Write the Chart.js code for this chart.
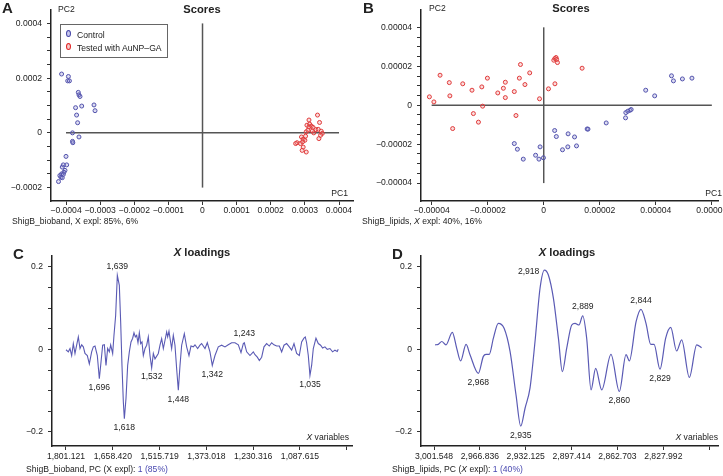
<!DOCTYPE html>
<html>
<head>
<meta charset="utf-8">
<script src="https://cdn.jsdelivr.net/npm/chart.js@4.4.1/dist/chart.umd.min.js"></script>
<style>
  html, body { margin: 0; padding: 0; background: #fff; }
  #page { position: relative; width: 723px; height: 476px; overflow: hidden; color: #222; font-family: var(--f); }
  canvas { position: absolute; }
  .tx { position: absolute; white-space: nowrap; font-size: calc(10px * var(--k)); line-height: 10px; }
  .ttl { position: absolute; white-space: nowrap; font-weight: bold; font-size: calc(13px * var(--k)); line-height: 13px; transform: translateX(-50%); }
  .let { position: absolute; font-family: "Liberation Sans", Arial, sans-serif; font-weight: bold; font-size: 15px; line-height: 15px; }
  .blue { color: #4848b0; }
  #legend { position: absolute; left: 60px; top: 24px; width: 106px; height: 32px; border: 1px solid #666; background: #fff; }
  .mk { position: absolute; width: 3px; height: 5px; border-radius: 50%; border: 1.5px solid; }
</style>
</head>
<body>
<div id="page">
  <canvas id="chartA" width="360" height="230" style="left:0;top:0"></canvas>
  <canvas id="chartB" width="363" height="230" style="left:360px;top:0"></canvas>
  <canvas id="chartC" width="360" height="246" style="left:0;top:230px"></canvas>
  <canvas id="chartD" width="363" height="246" style="left:360px;top:230px"></canvas>

  <div class="let" style="left:2px;top:0px">A</div>
  <div class="tx" style="left:58px;top:4px">PC2</div>
  <div class="ttl" style="left:202px;top:3px">Scores</div>
  <div id="legend">
    <div class="mk" style="left:5px;top:5px;border-color:#4848a8;background:#c8c8ee"></div>
    <div class="tx" style="left:16px;top:5px">Control</div>
    <div class="mk" style="left:5px;top:18px;border-color:#e02828;background:#f6c8c8"></div>
    <div class="tx" style="left:16px;top:18px">Tested with AuNP–GA</div>
  </div>
  <div class="tx" style="right:375px;top:188px">PC1</div>
  <div class="tx" style="left:12px;top:216px">ShigB_bioband, X expl: 85%, 6%</div>

  <div class="let" style="left:363px;top:0px">B</div>
  <div class="tx" style="left:429px;top:3px">PC2</div>
  <div class="ttl" style="left:571px;top:2px">Scores</div>
  <div class="tx" style="right:1px;top:188px">PC1</div>
  <div class="tx" style="left:362px;top:216px">ShigB_lipids, <i>X</i> expl: 40%, 16%</div>

  <div class="let" style="left:13px;top:246px">C</div>
  <div class="ttl" style="left:202px;top:246px"><i>X</i> loadings</div>
  <div class="tx" style="right:374px;top:432px"><i>X</i> variables</div>
  <div class="tx" style="left:26px;top:464px">ShigB_bioband, PC (X expl): <span class="blue">1 (85%)</span></div>

  <div class="let" style="left:392px;top:246px">D</div>
  <div class="ttl" style="left:567px;top:246px"><i>X</i> loadings</div>
  <div class="tx" style="right:5px;top:432px"><i>X</i> variables</div>
  <div class="tx" style="left:392px;top:464px">ShigB_lipids, PC (<i>X</i> expl): <span class="blue">1 (40%)</span></div>
</div>

<script>
// A: scores, bioband
const aControlX = [-0.000413,-0.000393,-0.000395,-0.000390,-0.000364,-0.000362,-0.000359,-0.000354,-0.000372,-0.000369,-0.000366,-0.000318,-0.000315,-0.000381,-0.000362,-0.000381,-0.000380,-0.000400,-0.000398,-0.000408,-0.000411,-0.000403,-0.000406,-0.000413,-0.000408,-0.000418,-0.000415,-0.000411,-0.000422]
const aControlY = [0.000215,0.000206,0.000190,0.000190,0.000148,0.000139,0.000133,0.000098,0.000092,0.000065,0.000037,0.000102,0.000081,0.000000,-0.000015,-0.000031,-0.000036,-0.000086,-0.000117,-0.000117,-0.000125,-0.000137,-0.000144,-0.000150,-0.000152,-0.000156,-0.000162,-0.000164,-0.000178]
const aTestedX = [0.000337,0.000312,0.000343,0.000306,0.000314,0.000319,0.000312,0.000324,0.000332,0.000304,0.000339,0.000348,0.000351,0.000326,0.000346,0.000290,0.000302,0.000295,0.000300,0.000293,0.000287,0.000341,0.000277,0.000273,0.000292,0.000304,0.000295,0.000309,0.000322]
const aTestedY = [0.000065,0.000047,0.000038,0.000028,0.000032,0.000025,0.000022,0.000020,0.000012,0.000004,0.000013,0.000006,-0.000002,0.000000,-0.000009,-0.000015,-0.000012,-0.000023,-0.000027,-0.000033,-0.000039,-0.000021,-0.000036,-0.000039,-0.000064,-0.000070,-0.000052,0.000010,0.000007]
const aZeroH = [-0.0004, 0.0004]
const aZeroV = [-0.0002, 0.0004]
const aXTicks = [-0.0004,-0.0003,-0.0002,-0.0001,0,0.0001,0.0002,0.0003,0.0004]
const aXLabels = ['−0.0004','−0.0003','−0.0002','−0.0001','0','0.0001','0.0002','0.0003','0.0004']
const aYTicks = [-0.0002,-0.00015,-0.0001,-0.00005,0,0.00005,0.0001,0.00015,0.0002,0.00025,0.0003,0.00035,0.0004]
const aYMajor = [-0.0002,0,0.0002,0.0004]
const aYLabels = ['−0.0002','0','0.0002','0.0004']

// B: scores, lipids
const bControlX = [-1.05e-5,-0.94e-5,-0.73e-5,-0.29e-5,-0.17e-5,-0.13e-5,-0.01e-5,0.39e-5,0.45e-5,0.67e-5,0.87e-5,0.86e-5,1.10e-5,1.17e-5,1.55e-5,1.58e-5,2.23e-5,2.92e-5,2.93e-5,3.00e-5,3.08e-5,3.12e-5,3.64e-5,3.96e-5,4.56e-5,4.63e-5,4.95e-5,5.29e-5]
const bControlY = [-1.97e-5,-2.26e-5,-2.77e-5,-2.57e-5,-2.77e-5,-2.14e-5,-2.70e-5,-1.30e-5,-1.61e-5,-2.29e-5,-1.47e-5,-2.14e-5,-1.63e-5,-2.09e-5,-1.22e-5,-1.23e-5,-0.91e-5,-0.65e-5,-0.38e-5,-0.31e-5,-0.26e-5,-0.22e-5,0.77e-5,0.48e-5,1.51e-5,1.25e-5,1.35e-5,1.39e-5]
const bTestedX = [-4.08e-5,-3.92e-5,-3.70e-5,-3.37e-5,-3.35e-5,-3.25e-5,-2.89e-5,-2.56e-5,-2.51e-5,-2.33e-5,-2.21e-5,-2.18e-5,-2.01e-5,-1.64e-5,-1.44e-5,-1.37e-5,-1.37e-5,-1.05e-5,-0.99e-5,-0.87e-5,-0.83e-5,-0.67e-5,-0.50e-5,-0.15e-5,0.17e-5,0.36e-5,0.40e-5,0.44e-5,0.46e-5,0.49e-5,0.40e-5,1.37e-5]
const bTestedY = [0.43e-5,0.17e-5,1.54e-5,1.16e-5,0.48e-5,-1.20e-5,1.10e-5,0.77e-5,-0.43e-5,-0.87e-5,0.94e-5,-0.05e-5,1.39e-5,0.63e-5,0.87e-5,1.18e-5,0.39e-5,0.70e-5,-0.53e-5,1.39e-5,2.09e-5,1.06e-5,1.66e-5,0.33e-5,0.84e-5,2.31e-5,2.40e-5,2.45e-5,2.35e-5,2.19e-5,1.10e-5,1.90e-5]
const bZeroH = [-0.00004, 0.00006]
const bZeroV = [-0.00004, 0.00004]
const bXTicks = [-0.00004,-0.00002,0,0.00002,0.00004,0.00006]
const bXLabels = ['−0.00004','−0.00002','0','0.00002','0.00004','0.00006']
const bYTicks = [-0.00004,-0.000035,-0.00003,-0.000025,-0.00002,-0.000015,-0.00001,-0.000005,0,0.000005,0.00001,0.000015,0.00002,0.000025,0.00003,0.000035,0.00004]
const bYMajor = [-0.00004,-0.00002,0,0.00002,0.00004]
const bYLabels = ['−0.00004','−0.00002','0','0.00002','0.00004']

// C: X loadings, bioband
const cWavenumber = [1801.1,1794.0,1788.9,1783.8,1778.8,1773.7,1768.6,1763.5,1758.4,1753.3,1748.3,1743.2,1736.1,1730.0,1722.9,1717.8,1712.7,1705.6,1699.5,1695.4,1689.3,1684.2,1679.2,1674.1,1669.0,1664.9,1658.8,1654.8,1649.7,1644.6,1638.5,1634.4,1630.4,1626.3,1623.2,1618.2,1613.1,1608.0,1602.9,1597.8,1593.8,1589.7,1585.6,1581.6,1577.5,1573.4,1569.4,1565.3,1560.2,1555.1,1550.1,1545.0,1539.9,1534.8,1529.7,1519.6,1514.5,1509.4,1504.3,1499.2,1494.2,1491.1,1487.1,1483.0,1479.0,1473.9,1468.8,1463.7,1458.6,1453.5,1448.4,1440.3,1433.2,1426.1,1420.0,1412.9,1407.8,1399.7,1392.6,1387.5,1377.3,1370.2,1362.1,1355.0,1346.8,1336.7,1326.5,1316.3,1306.3,1296.0,1285.8,1275.6,1267.5,1260.4,1257.4,1250.2,1240.1,1229.9,1224.8,1217.7,1211.6,1204.5,1197.4,1189.3,1181.2,1174.0,1166.9,1158.8,1150.6,1143.5,1136.4,1128.3,1120.2,1113.0,1105.9,1097.8,1089.7,1082.6,1075.5,1071.4,1067.4,1062.3,1057.2,1052.1,1047.0,1038.9,1031.8,1024.7,1018.6,1011.5,1004.4,996.3,988.2,981.0,974.0,971.0]
const cLoading = [-0.001,-0.006,0.002,-0.015,0.014,-0.010,0.010,0.030,0.002,0.011,0.006,-0.010,-0.015,-0.035,-0.006,0.006,0.008,-0.015,-0.071,-0.039,0.010,0.011,-0.039,0.002,-0.006,0.011,-0.010,0.034,0.082,0.179,0.155,0.066,-0.039,-0.127,-0.168,-0.119,-0.039,-0.006,0.018,0.027,0.040,0.030,0.034,0.016,0.040,0.014,0.018,-0.015,0.002,0.010,0.030,-0.015,-0.045,-0.010,-0.023,-0.010,0.010,0.026,0.002,0.022,0.042,0.030,0.044,0.022,0.002,0.034,0.010,-0.047,-0.099,-0.039,0.010,0.038,0.006,-0.015,0.008,0.006,0.011,0.002,0.010,0.014,0.002,0.016,-0.006,-0.039,-0.015,0.006,0.010,0.006,0.011,0.016,0.016,0.011,-0.008,0.014,0.016,-0.006,-0.015,-0.006,-0.013,-0.019,-0.027,-0.019,0.006,0.014,0.008,0.016,0.011,0.008,0.008,-0.006,0.010,0.014,0.006,-0.002,0.014,-0.010,-0.015,0.018,0.027,0.030,0.016,-0.015,-0.063,-0.039,0.002,0.027,0.014,0.010,0.003,0.006,0.000,0.002,-0.006,-0.002,-0.005,0.000]
const cPeakText = ['1,639','1,696','1,618','1,532','1,448','1,342','1,243','1,035']
const cPeakAt = [1644.6,1699.5,1623.2,1539.9,1458.6,1355.0,1257.4,1057.2]
const cPeakSide = ['up','down','down','down','down','down','up','down']
const cXTicks = [1801.121,1658.420,1515.719,1373.018,1230.316,1087.615,944.914]
const cXLabels = ['1,801.121','1,658.420','1,515.719','1,373.018','1,230.316','1,087.615','']

// D: X loadings, lipids
const dWavenumber = [3000.8,2998.3,2995.7,2992.5,2987.7,2984.4,2981.4,2977.3,2974.3,2968.0,2964.2,2962.2,2959.7,2956.6,2952.9,2948.5,2944.0,2939.5,2935.9,2932.6,2928.9,2925.1,2921.3,2918.0,2915.0,2911.2,2907.4,2904.4,2901.1,2897.3,2894.8,2891.8,2889.0,2886.0,2882.7,2879.2,2874.6,2867.6,2861.3,2856.2,2853.7,2848.6,2844.9,2841.1,2837.5,2835.0,2830.5,2826.2,2822.4,2817.9,2814.1,2808.3,2802.7,2799.0]
const dLoading = [0.011,0.012,0.019,0.011,0.041,0.003,-0.028,0.012,-0.013,-0.058,-0.017,-0.012,-0.012,0.027,0.063,0.051,-0.005,-0.110,-0.186,-0.142,-0.094,0.019,0.148,0.192,0.180,0.124,0.027,-0.054,0.003,0.059,0.063,0.059,0.081,0.027,-0.098,-0.046,-0.098,-0.012,-0.102,-0.013,-0.028,0.067,0.097,0.063,0.012,0.012,-0.048,0.027,0.053,-0.004,0.023,-0.068,0.011,0.004]
const dPeakText = ['2,968','2,935','2,918','2,889','2,860','2,844','2,829']
const dPeakAt = [2968.0,2935.9,2918.0,2889.0,2861.3,2844.9,2830.5]
const dPeakSide = ['down','down','left','up','down','up','down']
const dXTicks = [3001.548,2966.836,2932.125,2897.414,2862.703,2827.992,2793.281]
const dXLabels = ['3,001.548','2,966.836','2,932.125','2,897.414','2,862.703','2,827.992','']

const loadTicks = [-0.2,-0.15,-0.1,-0.05,0,0.05,0.1,0.15,0.2]
const loadMajor = [-0.2,0,0.2]
const loadLabels = ['−0.2','0','0.2']

// pick a narrow sans if the machine has one
const probe = document.createElement('canvas').getContext('2d')
function hasFont(name) {
  probe.font = '20px monospace'
  const w0 = probe.measureText('abcdefghij0123456789').width
  probe.font = '20px "' + name + '", monospace'
  return probe.measureText('abcdefghij0123456789').width !== w0
}
const narrow = hasFont('Liberation Sans Narrow')
const FAM = narrow ? '"Liberation Sans Narrow", "Liberation Sans", Arial, sans-serif' : '"Liberation Sans", Arial, sans-serif'
const K = narrow ? 1 : 0.86
document.documentElement.style.setProperty('--f', FAM)
document.documentElement.style.setProperty('--k', K)

Chart.defaults.font.family = FAM
Chart.defaults.font.size = 10 * K
Chart.defaults.color = '#222'
Chart.defaults.animation = false
Chart.defaults.plugins.legend.display = false
Chart.defaults.plugins.tooltip.enabled = false

const BLUE = '#5252ac'
const RED = '#e03a3a'

function zip(xs, ys) {
  return xs.map((x, i) => ({ x: x, y: ys[i] }))
}

function labelFor(v, majors, labels) {
  for (let i = 0; i < majors.length; i++) {
    if (Math.abs(v - majors[i]) < 1e-12) return labels[i]
  }
  return ''
}

function makeScale(o) {
  return {
    type: 'linear',
    min: o.min,
    max: o.max,
    reverse: !!o.reverse,
    afterBuildTicks: s => { s.ticks = o.ticks.map(v => ({ value: v })) },
    afterFit: s => {
      if (o.width) s.width = o.width
      if (o.height) s.height = o.height
      s.paddingLeft = 0; s.paddingRight = 0; s.paddingTop = 0; s.paddingBottom = 0
    },
    ticks: {
      autoSkip: false, maxRotation: 0, minRotation: 0, padding: o.pad,
      callback: v => labelFor(v, o.majors, o.labels)
    },
    grid: { drawOnChartArea: false, drawTicks: true, tickLength: 4, color: '#333' },
    border: { display: true, color: '#222', width: 1.5 }
  }
}

function zeroLine(points) {
  return { data: points, showLine: true, pointRadius: 0, borderColor: '#555', borderWidth: 1.5 }
}

function scoreSet(xs, ys, color, fill) {
  return { data: zip(xs, ys), pointRadius: 2, borderWidth: 1, borderColor: color, backgroundColor: fill }
}

function peakLabels(text, at, side) {
  return {
    id: 'peakLabels',
    afterDatasetsDraw(chart) {
      const ctx = chart.ctx
      const xs = chart.scales.x, ys = chart.scales.y
      const pts = chart.data.datasets[0].data
      ctx.save()
      ctx.font = (10 * K) + 'px ' + FAM
      ctx.fillStyle = '#222'
      ctx.textBaseline = 'middle'
      text.forEach((t, i) => {
        let p = pts[0]
        pts.forEach(q => { if (Math.abs(q.x - at[i]) < Math.abs(p.x - at[i])) p = q })
        const px = xs.getPixelForValue(p.x)
        const py = ys.getPixelForValue(p.y)
        if (side[i] === 'left') {
          ctx.textAlign = 'right'
          ctx.fillText(t, px - 5, py + 2)
        } else {
          ctx.textAlign = 'center'
          ctx.fillText(t, px, side[i] === 'up' ? py - 9 : py + 9)
        }
      })
      ctx.restore()
    }
  }
}

new Chart(document.getElementById('chartA'), {
  type: 'scatter',
  data: {
    datasets: [
      scoreSet(aControlX, aControlY, BLUE, 'rgba(140,140,210,0.3)'),
      scoreSet(aTestedX, aTestedY, RED, 'rgba(240,140,140,0.3)'),
      zeroLine([{ x: aZeroH[0], y: 0 }, { x: aZeroH[1], y: 0 }]),
      zeroLine([{ x: 0, y: aZeroV[0] }, { x: 0, y: aZeroV[1] }])
    ]
  },
  options: {
    responsive: false,
    layout: { padding: { top: 10, right: 7, left: 0, bottom: 0 } },
    scales: {
      x: makeScale({ min: -0.000444, max: 0.000441, ticks: aXTicks, majors: aXTicks, labels: aXLabels, height: 29, pad: 0 }),
      y: makeScale({ min: -0.000249, max: 0.000449, ticks: aYTicks, majors: aYMajor, labels: aYLabels, width: 51, pad: 5 })
    }
  }
})

new Chart(document.getElementById('chartB'), {
  type: 'scatter',
  data: {
    datasets: [
      scoreSet(bControlX, bControlY, BLUE, 'rgba(140,140,210,0.3)'),
      scoreSet(bTestedX, bTestedY, RED, 'rgba(240,140,140,0.3)'),
      zeroLine([{ x: bZeroH[0], y: 0 }, { x: bZeroH[1], y: 0 }]),
      zeroLine([{ x: 0, y: bZeroV[0] }, { x: 0, y: bZeroV[1] }])
    ]
  },
  options: {
    responsive: false,
    layout: { padding: { top: 10, right: 5, left: 0, bottom: 0 } },
    scales: {
      x: makeScale({ min: -0.0000438, max: 0.0000622, ticks: bXTicks, majors: bXTicks, labels: bXLabels, height: 29, pad: 0 }),
      y: makeScale({ min: -0.0000492, max: 0.0000489, ticks: bYTicks, majors: bYMajor, labels: bYLabels, width: 61, pad: 5 })
    }
  }
})

new Chart(document.getElementById('chartC'), {
  type: 'scatter',
  data: {
    datasets: [{
      data: zip(cWavenumber, cLoading), showLine: true, pointRadius: 0,
      borderColor: '#5a5ab4', borderWidth: 1.1, tension: 0
    }]
  },
  options: {
    responsive: false,
    layout: { padding: { top: 26, right: 8, left: 0, bottom: 0 } },
    scales: {
      x: makeScale({ min: 929, max: 1843.8, reverse: true, ticks: cXTicks, majors: cXTicks, labels: cXLabels, height: 30, pad: 1 }),
      y: makeScale({ min: -0.234, max: 0.226, ticks: loadTicks, majors: loadMajor, labels: loadLabels, width: 52, pad: 5 })
    }
  },
  plugins: [peakLabels(cPeakText, cPeakAt, cPeakSide)]
})

new Chart(document.getElementById('chartD'), {
  type: 'scatter',
  data: {
    datasets: [{
      data: zip(dWavenumber, dLoading), showLine: true, pointRadius: 0,
      borderColor: '#5a5ab4', borderWidth: 1.2, cubicInterpolationMode: 'monotone'
    }]
  },
  options: {
    responsive: false,
    layout: { padding: { top: 26, right: 5, left: 0, bottom: 0 } },
    scales: {
      x: makeScale({ min: 2786.6, max: 3011.4, reverse: true, ticks: dXTicks, majors: dXTicks, labels: dXLabels, height: 30, pad: 1 }),
      y: makeScale({ min: -0.234, max: 0.226, ticks: loadTicks, majors: loadMajor, labels: loadLabels, width: 61, pad: 5 })
    }
  },
  plugins: [peakLabels(dPeakText, dPeakAt, dPeakSide)]
})
</script>
</body>
</html>
